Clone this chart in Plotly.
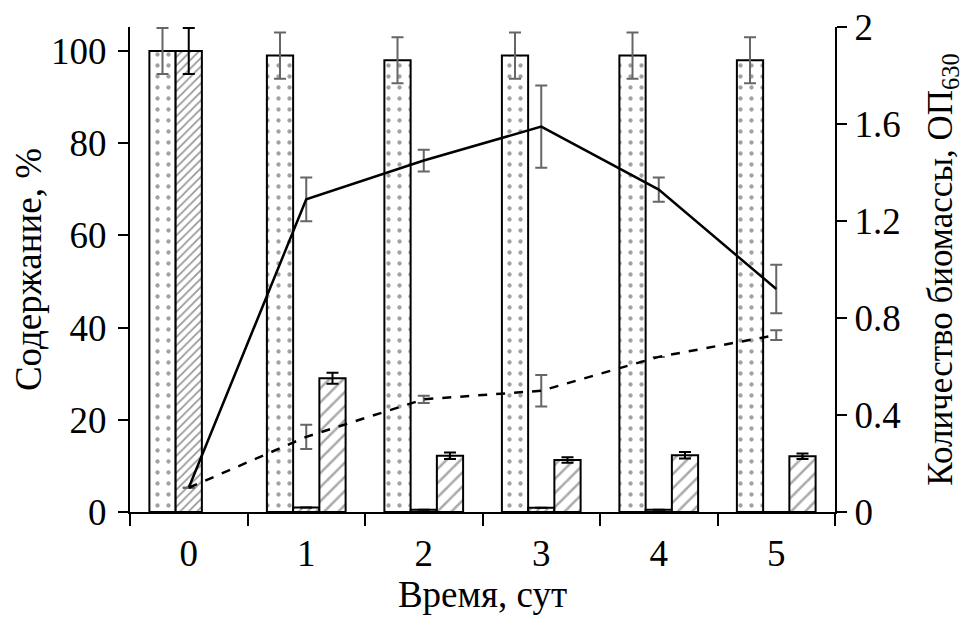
import plotly.graph_objects as go

days = ["0", "1", "2", "3", "4", "5"]

# Bars, content %
dotted_vals = [100, 99, 98, 99, 99, 98]
dotted_err = [5, 5, 5, 5, 5, 5]
dense_vals = [100, 1.0, 0.5, 0.9, 0.5, 0]
dense_err = [5, 0, 0, 0, 0, 0]
sparse_vals = [None, 29, 12.2, 11.3, 12.3, 12.1]
sparse_err = [0, 1.2, 0.7, 0.6, 0.7, 0.6]

# Lines, biomass OD630
solid_vals = [0.10, 1.29, 1.45, 1.59, 1.33, 0.92]
solid_err = [0, 0.09, 0.045, 0.17, 0.05, 0.10]
dashed_vals = [0.10, 0.31, 0.465, 0.50, 0.64, 0.73]
dashed_err = [0, 0.05, 0.015, 0.065, 0, 0.02]

y2_ticks = [0, 0.4, 0.8, 1.2, 1.6, 2]
y2_labels = ["0", "0.4", "0.8", "1.2", "1.6", "2"]
y1_ticks = [0, 20, 40, 60, 80, 100]

FONT = "Times New Roman, Liberation Serif, DejaVu Serif, serif"
GRAY = "#666666"
FS = 37

fig = go.Figure()

fig.add_trace(go.Bar(
    x=days, y=dotted_vals,
    marker=dict(color="white", line=dict(color="black", width=2),
                pattern=dict(shape=".", size=11, solidity=0.12, fgcolor="#444444", bgcolor="white")),
    error_y=dict(type="data", array=dotted_err, color=GRAY, thickness=2, width=6),
    showlegend=False,
))
fig.add_trace(go.Bar(
    x=days, y=dense_vals,
    marker=dict(color="white", line=dict(color="black", width=2),
                pattern=dict(shape="/", size=6, solidity=0.3, fgcolor="#333333", bgcolor="white")),
    error_y=dict(type="data", array=dense_err, color="black", thickness=2, width=6),
    showlegend=False,
))
fig.add_trace(go.Bar(
    x=days, y=sparse_vals,
    marker=dict(color="white", line=dict(color="black", width=2),
                pattern=dict(shape="/", size=10, solidity=0.25, fgcolor="#555555", bgcolor="white")),
    error_y=dict(type="data", array=sparse_err, color="black", thickness=2, width=6),
    showlegend=False,
))

fig.add_trace(go.Scatter(
    x=days, y=solid_vals, yaxis="y2", mode="lines",
    line=dict(color="black", width=2.5),
    error_y=dict(type="data", array=solid_err, color=GRAY, thickness=2, width=6),
    showlegend=False,
))
fig.add_trace(go.Scatter(
    x=days, y=dashed_vals, yaxis="y2", mode="lines",
    line=dict(color="black", width=2.5, dash="dash"),
    error_y=dict(type="data", array=dashed_err, color=GRAY, thickness=2, width=6),
    showlegend=False,
))

fig.update_layout(
    width=962, height=613,
    margin=dict(l=122, r=135, t=19, b=109),
    paper_bgcolor="white", plot_bgcolor="white",
    barmode="group", bargap=0.33, bargroupgap=0,
    font=dict(family=FONT, size=FS, color="black"),
    xaxis=dict(
        type="category", tickson="boundaries", ticks="outside", ticklen=12,
        tickwidth=2, tickcolor="black", showline=True, linecolor="black", linewidth=2,
        showgrid=False, zeroline=False, automargin=False, ticklabelstandoff=8,
        title=dict(text="Время, сут", standoff=6, font=dict(size=FS)),
        tickfont=dict(size=FS),
    ),
    yaxis=dict(
        range=[0, 105.2], tickvals=y1_ticks, ticks="outside", ticklen=10,
        tickwidth=2, tickcolor="black", showline=True, linecolor="black", linewidth=2,
        showgrid=False, zeroline=False, automargin=False, ticklabelstandoff=4,
        ticklabeloverflow="allow",
        title=dict(text="Содержание, %", standoff=2, font=dict(size=FS)),
        tickfont=dict(size=FS),
    ),
    yaxis2=dict(
        overlaying="y", side="right", range=[0, 2.001],
        tickvals=y2_ticks, ticktext=y2_labels,
        ticks="outside", ticklen=10, tickwidth=2, tickcolor="black",
        showline=True, linecolor="black", linewidth=2, showgrid=False, zeroline=False,
        automargin=False, ticklabeloverflow="allow",
        title=dict(text="Количество биомассы, ОП<sub>630</sub>", standoff=28, font=dict(size=35)),
        tickfont=dict(size=FS),
    ),
)

fig.write_html("out.html")
